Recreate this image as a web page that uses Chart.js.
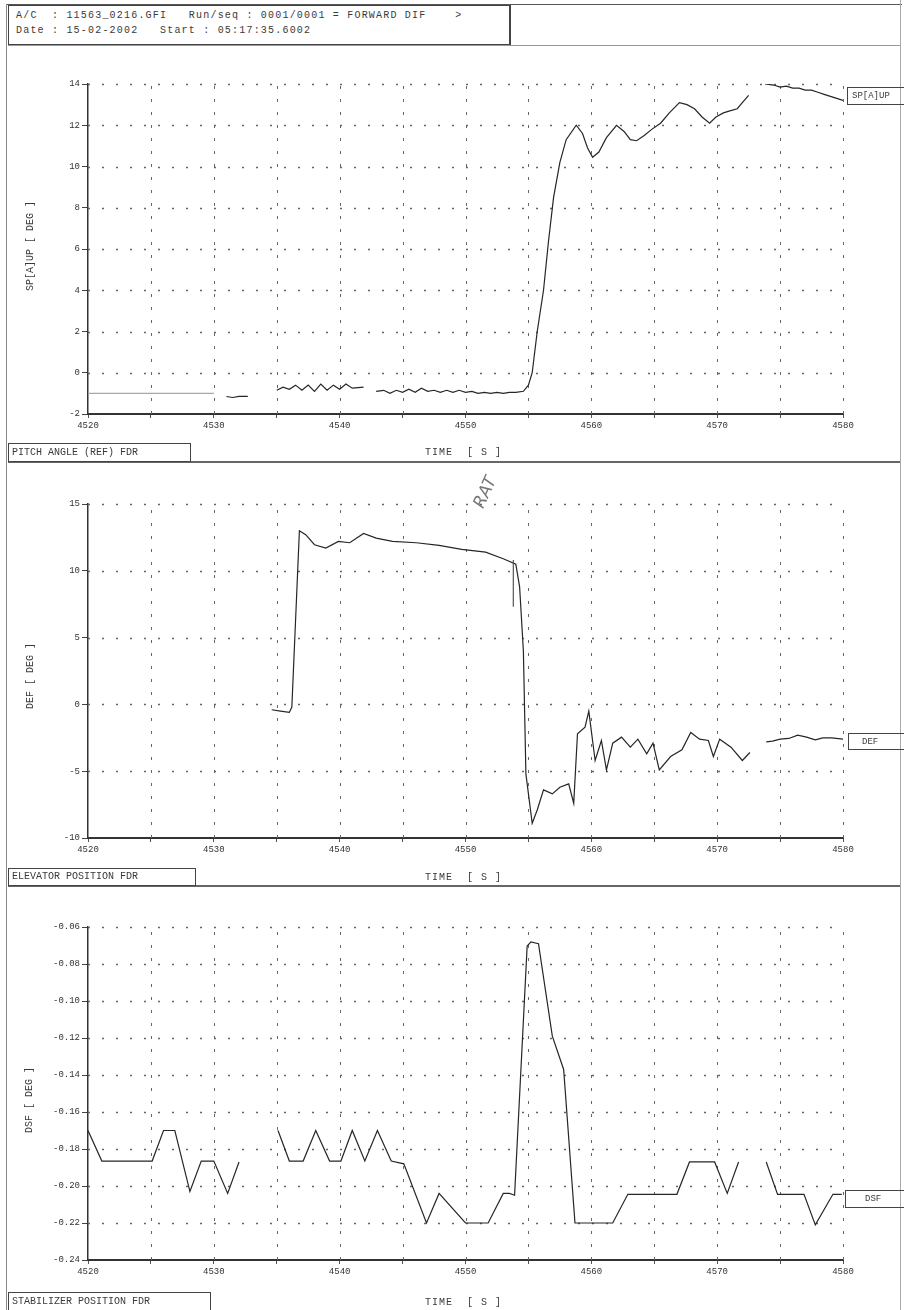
<!DOCTYPE html>
<html>
<head>
<meta charset="utf-8">
<script src="https://cdn.jsdelivr.net/npm/chart.js@4.4.0/dist/chart.umd.min.js"></script>
<style>
  html,body{margin:0;padding:0;background:#fff;}
  #page{position:relative;width:904px;height:1310px;overflow:hidden;background:#fff;font-family:"Liberation Mono","DejaVu Sans Mono",monospace;color:#333;}
  canvas{position:absolute;left:0;}
  .t{position:absolute;white-space:pre;font-size:10px;line-height:10px;color:#3a3a3a;}
  .box{position:absolute;border:1px solid #444;box-sizing:border-box;}
  .hl{position:absolute;background:#555;}
  .vt{position:absolute;white-space:pre;font-size:10px;transform:translate(-50%,-50%) rotate(-90deg);color:#3a3a3a;}
</style>
</head>
<body>
<div id="page">
  <!-- frame -->
  <div class="hl" style="left:6px;top:4px;width:896px;height:1px;"></div>
  <div class="hl" style="left:6px;top:4px;width:1px;height:1306px;background:#888;"></div>
  <div class="hl" style="left:900px;top:0px;width:1px;height:1310px;background:#aaa;"></div>
  <div class="hl" style="left:8px;top:45px;width:892px;height:1px;background:#999;"></div>
  <div class="box" style="left:8px;top:5px;width:503px;height:40px;border-width:1px 2px 1px 1px;"></div>
  <div class="t" style="left:16px;top:11px;letter-spacing:1.2px;">A/C  : 11563_0216.GFI   Run/seq : 0001/0001 = FORWARD DIF    ></div>
  <div class="t" style="left:16px;top:26px;letter-spacing:1.2px;">Date : 15-02-2002   Start : 05:17:35.6002</div>

  <canvas id="c1" width="904" height="416" style="top:46px;"></canvas>
  <canvas id="c2" width="904" height="423" style="top:462px;"></canvas>
  <canvas id="c3" width="904" height="425" style="top:885px;"></canvas>

  <!-- panel separators -->
  <div class="hl" style="left:8px;top:461px;width:892px;height:2px;background:#666;"></div>
  <div class="hl" style="left:8px;top:885px;width:892px;height:2px;background:#666;"></div>

  <!-- panel 1 texts -->
  <div class="vt" style="left:30px;top:246px;">SP[A]UP [ DEG ]</div>
  <div class="box" style="left:8px;top:443px;width:183px;height:19px;"></div>
  <div class="t" style="left:12px;top:448px;">PITCH ANGLE (REF) FDR</div>
  <div class="t" style="left:425px;top:448px;letter-spacing:1px;">TIME  [ S ]</div>
  <div class="box" style="left:847px;top:87px;width:60px;height:18px;"></div>
  <div class="t" style="left:852px;top:91px;font-size:9px;">SP[A]UP</div>

  <!-- panel 2 texts -->
  <div class="vt" style="left:30px;top:676px;">DEF [ DEG ]</div>
  <div class="box" style="left:8px;top:868px;width:188px;height:18px;"></div>
  <div class="t" style="left:12px;top:872px;">ELEVATOR POSITION FDR</div>
  <div class="t" style="left:425px;top:873px;letter-spacing:1px;">TIME  [ S ]</div>
  <div class="box" style="left:848px;top:733px;width:60px;height:17px;"></div>
  <div class="t" style="left:862px;top:737px;font-size:9px;">DEF</div>

  <!-- panel 3 texts -->
  <div class="vt" style="left:29px;top:1100px;">DSF [ DEG ]</div>
  <div class="box" style="left:8px;top:1292px;width:203px;height:19px;"></div>
  <div class="t" style="left:12px;top:1297px;">STABILIZER POSITION FDR</div>
  <div class="t" style="left:425px;top:1298px;letter-spacing:1px;">TIME  [ S ]</div>
  <div class="box" style="left:845px;top:1190px;width:60px;height:18px;"></div>
  <div class="t" style="left:865px;top:1194px;font-size:9px;">DSF</div>
</div>

<script>
// ---------- data ----------
const xTicks = [4520, 4530, 4540, 4550, 4560, 4570, 4580];

const pitchTime = [4520,4522,4524,4526,4528,4530,4530.5,
  4531,4531.5,4532,4532.7,4533.5,
  4535,4535.5,4536,4536.5,4537,4537.5,4538,4538.5,4539,4539.5,4540,4540.5,4541,4541.9,4542.4,
  4542.9,4543.5,4544,4544.5,4545,4545.5,4546,4546.5,4547,4547.5,4548,4548.5,4549,4549.5,4550,4550.5,4551,4551.5,4552,4552.5,4553,4553.5,4554,4554.6,
  4555.0,4555.3,4555.7,4556.2,4556.6,4557.0,4557.5,4558.0,4558.8,4559.3,4559.7,4560.1,4560.6,4561.2,4562.0,4562.6,4563.1,4563.6,4564.2,4564.8,4565.5,4566.2,4567.0,4567.6,4568.2,4568.8,4569.4,4569.9,4570.5,4571.0,4571.6,4572.0,4572.5,4573.1,
  4573.8,4574.5,4575,4575.5,4576,4576.5,4577,4577.5,4578,4578.5,4579,4579.5,4580];
const pitchValues = [-1.0,-1.0,-1.0,-1.0,-1.0,-1.0,null,
  -1.15,-1.2,-1.15,-1.15,null,
  -0.85,-0.7,-0.8,-0.6,-0.85,-0.6,-0.9,-0.55,-0.85,-0.6,-0.8,-0.55,-0.75,-0.7,null,
  -0.9,-0.85,-1.0,-0.85,-0.95,-0.8,-0.95,-0.75,-0.9,-0.85,-0.95,-0.85,-0.95,-0.85,-0.95,-0.9,-1.0,-0.95,-1.0,-0.95,-1.0,-0.95,-0.95,-0.9,
  -0.6,0.0,2.0,4.0,6.4,8.5,10.2,11.3,12.0,11.6,10.9,10.45,10.7,11.4,12.0,11.7,11.3,11.25,11.5,11.8,12.1,12.6,13.1,13.0,12.8,12.4,12.1,12.4,12.6,12.7,12.8,13.1,13.45,null,
  14.0,13.95,13.85,13.9,13.8,13.8,13.7,13.7,13.6,13.5,13.4,13.3,13.2];

const elevTime = [4534.6,4535.3,4536.0,4536.2,4536.8,4537.3,4538.0,4538.9,4539.9,4540.8,4541.9,4542.9,4544.2,4546.1,4547.9,4549.7,4551.6,4553.0,4554.0,4554.3,4554.6,4554.8,4555.3,4555.7,4556.2,4556.9,4557.5,4558.2,4558.6,4558.9,4559.5,4559.8,4560.3,4560.8,4561.2,4561.7,4562.4,4563.1,4563.7,4564.4,4564.9,4565.4,4566.3,4567.2,4567.9,4568.6,4569.3,4569.7,4570.2,4571.1,4572.0,4572.6,4573.2,
  4573.9,4574.4,4575.0,4575.7,4576.4,4577.1,4577.8,4578.4,4579.1,4580];
const elevValues = [-0.4,-0.5,-0.6,-0.2,13.0,12.7,11.95,11.7,12.2,12.1,12.8,12.45,12.2,12.1,11.9,11.6,11.4,10.9,10.5,8.8,4.0,-5.2,-8.9,-7.9,-6.4,-6.7,-6.2,-5.95,-7.4,-2.2,-1.7,-0.5,-4.2,-2.7,-4.9,-2.9,-2.45,-3.2,-2.6,-3.7,-2.9,-4.9,-3.9,-3.4,-2.1,-2.6,-2.7,-3.9,-2.6,-3.2,-4.2,-3.6,null,
  -2.8,-2.75,-2.6,-2.55,-2.3,-2.45,-2.65,-2.5,-2.5,-2.6];

const stabTime = [4520.0,4521.1,4525.1,4526.0,4526.9,4528.1,4529.0,4530.0,4531.1,4532.0,4533.0,
  4535.1,4536.0,4537.1,4538.1,4539.2,4540.1,4541.0,4542.0,4543.0,4544.1,4545.1,4546.9,4547.9,4550.0,4551.8,4553.0,4553.5,4553.9,4554.9,4555.2,4555.8,4556.9,4557.8,4558.7,4561.7,4562.9,4566.8,4567.8,4569.8,4570.8,4571.7,4572.8,
  4573.9,4574.8,4576.9,4577.8,4579.2,4579.9];
const stabValues = [-0.170,-0.1865,-0.1865,-0.170,-0.170,-0.203,-0.1865,-0.1865,-0.204,-0.187,null,
  -0.170,-0.1865,-0.1865,-0.170,-0.1865,-0.1865,-0.170,-0.1865,-0.170,-0.1865,-0.188,-0.220,-0.204,-0.220,-0.220,-0.204,-0.204,-0.205,-0.0703,-0.068,-0.069,-0.119,-0.137,-0.220,-0.220,-0.2045,-0.2045,-0.187,-0.187,-0.204,-0.187,null,
  -0.187,-0.2045,-0.2045,-0.221,-0.2045,-0.2045];

// ---------- helpers ----------
const FONT = {family: '"Liberation Mono","DejaVu Sans Mono",monospace', size: 9};
const pts = (xs, ys) => xs.map((x, i) => ({x: x, y: ys[i]}));

const gridPlugin = {
  id: 'scanGrid',
  beforeDatasetsDraw(chart) {
    const {ctx, chartArea: a, scales: {x, y}} = chart;
    ctx.save();
    ctx.strokeStyle = '#666';
    // vertical dashed
    ctx.lineWidth = 1;
    ctx.setLineDash([3, 10]);
    x.ticks.forEach(t => {
      if (t.value <= x.min) return;
      const px = Math.round(x.getPixelForValue(t.value)) + 0.5;
      ctx.beginPath(); ctx.moveTo(px, a.bottom); ctx.lineTo(px, a.top); ctx.stroke();
    });
    // horizontal dotted
    ctx.lineWidth = 1.6;
    ctx.setLineDash([2, 12]);
    y.ticks.forEach(t => {
      if (t.value <= y.min + 1e-9) return;
      const py = Math.round(y.getPixelForValue(t.value)) + 0.5;
      ctx.beginPath(); ctx.moveTo(a.left, py); ctx.lineTo(a.right, py); ctx.stroke();
    });
    ctx.restore();
  }
};

const noteAnchors = {t: [4551.4, 4553.8, 4553.8], v: [14.6, 10.8, 7.3]};
const notePlugin = {
  id: 'handNote',
  afterDatasetsDraw(chart) {
    if (chart.canvas.id !== 'c2') return;
    const {ctx, scales: {x, y}} = chart;
    ctx.save();
    ctx.translate(x.getPixelForValue(noteAnchors.t[0]), y.getPixelForValue(noteAnchors.v[0]));
    ctx.rotate(-1.15);
    ctx.font = 'italic 17px "DejaVu Sans", sans-serif';
    ctx.fillStyle = '#777';
    ctx.fillText('RAT', 0, 0);
    ctx.restore();
    ctx.save();
    ctx.strokeStyle = '#555'; ctx.lineWidth = 1.2;
    const px = x.getPixelForValue(noteAnchors.t[1]);
    ctx.beginPath();
    ctx.moveTo(px, y.getPixelForValue(noteAnchors.v[1]));
    ctx.lineTo(px, y.getPixelForValue(noteAnchors.v[2]));
    ctx.stroke();
    ctx.restore();
  }
};

function makePanel(id, data, yMin, yMax, yStep, yFmt, padTop, xHeight, segColor) {
  const ds = {
    data: data, borderColor: '#262626', borderWidth: 1.2, pointRadius: 0,
    tension: 0, spanGaps: false, fill: false
  };
  if (segColor) ds.segment = {borderColor: segColor};
  return new Chart(document.getElementById(id), {
    type: 'line',
    data: {datasets: [ds]},
    options: {
      responsive: false, animation: false, devicePixelRatio: 1,
      layout: {padding: {top: padTop, right: 61, left: 0, bottom: 0}},
      plugins: {legend: {display: false}, tooltip: {enabled: false}},
      scales: {
        x: {
          type: 'linear', min: 4520, max: 4580,
          ticks: {stepSize: 5, autoSkip: false, maxRotation: 0, padding: 2, color: '#333', font: FONT,
                  callback: v => xTicks.includes(v) ? String(v) : ''},
          grid: {drawOnChartArea: false, drawTicks: true, tickLength: 4, color: '#555'},
          border: {display: true, color: '#333', width: 2},
          afterFit: s => { s.height = xHeight; }
        },
        y: {
          min: yMin, max: yMax,
          ticks: {stepSize: yStep, autoSkip: false, padding: 2, color: '#333', font: FONT, callback: yFmt},
          grid: {drawOnChartArea: false, drawTicks: true, tickLength: 6, color: '#444'},
          border: {display: true, color: '#333', width: 1.5},
          afterFit: s => { s.width = 88; }
        }
      }
    },
    plugins: [gridPlugin, notePlugin]
  });
}

makePanel('c1', pts(pitchTime, pitchValues), -2, 14, 2, v => String(Math.round(v)), 38, 48,
  ctx => ctx.p0.parsed.x < 4530.2 ? '#a8a8a8' : '#262626');
makePanel('c2', pts(elevTime, elevValues), -10, 15, 5, v => String(Math.round(v)), 42, 47, null);
makePanel('c3', pts(stabTime, stabValues), -0.24, -0.06, 0.02, v => v.toFixed(2), 42, 50, null);
</script>
</body>
</html>
